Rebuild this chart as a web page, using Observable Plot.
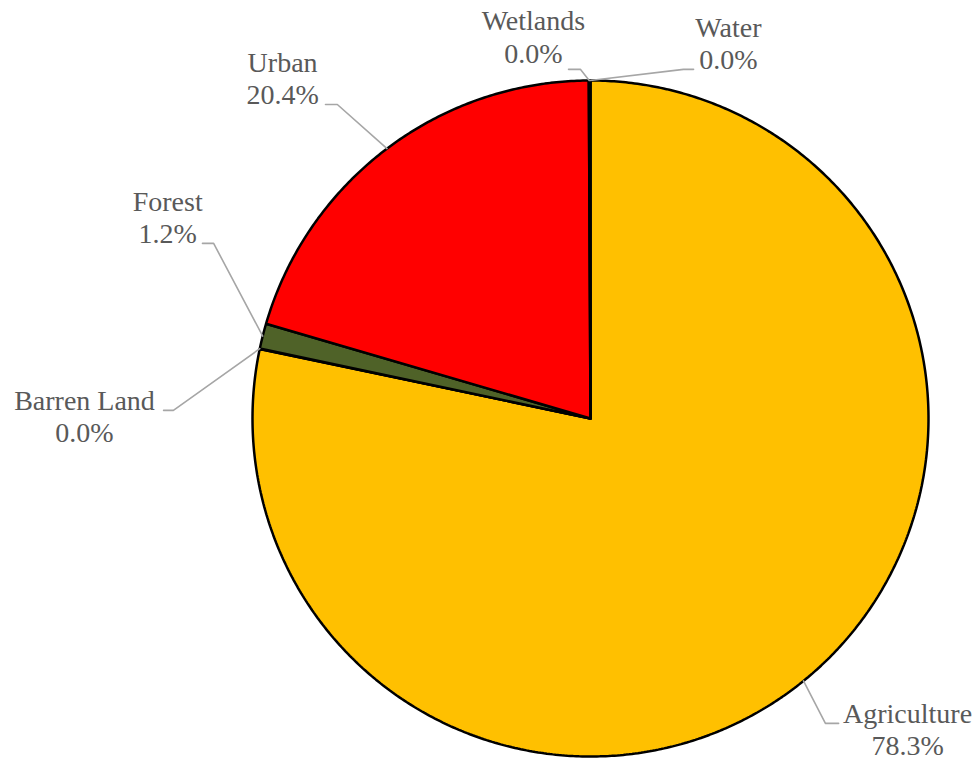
<!DOCTYPE html>
<html>
<head>
<meta charset="utf-8">
<script src="https://cdn.jsdelivr.net/npm/d3@7"></script>
<script src="https://cdn.jsdelivr.net/npm/@observablehq/plot@0.6"></script>
<style>
  html, body { margin: 0; padding: 0; background: #ffffff; }
  #chart svg { display: block; background: #ffffff; }
</style>
</head>
<body>
<div id="chart"></div>
<script>
// ---- data ----
const categories = ["Agriculture", "Barren Land", "Forest", "Urban", "Wetlands", "Water"];
const shares = [78.3, 0.02, 1.2, 20.4, 0.04, 0.04];   // percent of area
const sliceColors = ["#FFC000", "#7F7F7F", "#4F6228", "#FF0000", "#5B9BD5", "#2E75B6"];

// ---- label layout (in pie-radius units, centre = 0,0, y up) ----
const labelX = [0.938, -1.497, -1.251, -0.911, -0.169, 0.408];
const labelY = [-0.997, -0.071, 0.518, 0.929, 1.053, 1.033];
const elbowX = [0.695, -1.234, -1.115, -0.749, -0.030, 0.275];
const elbowY = [-0.902, 0.024, 0.518, 0.929, 1.033, 1.033];
const endX = [0.734, -1.263, -1.148, -0.784, -0.065, 0.305];
const endY = [-0.902, 0.024, 0.518, 0.929, 1.033, 1.033];

// ---- geometry from data ----
const total = d3.sum(shares);
let cum = 0;
const slices = categories.map((name, i) => {
  const a0 = cum / total * 2 * Math.PI;
  cum += shares[i];
  const a1 = cum / total * 2 * Math.PI;
  return {name, i, a0, a1, pct: (shares[i] / total * 100).toFixed(1) + "%"};
});

const sliceRows = [];
for (const s of slices) {
  sliceRows.push({name: s.name, x: 0, y: 0});
  const n = Math.max(2, Math.ceil((s.a1 - s.a0) / (Math.PI / 360)));
  for (let k = 0; k <= n; k++) {
    const a = s.a0 + (s.a1 - s.a0) * k / n;
    sliceRows.push({name: s.name, x: Math.sin(a), y: Math.cos(a)});
  }
  sliceRows.push({name: s.name, x: 0, y: 0});
}

const leaderRows = [];
for (const s of slices) {
  const am = (s.a0 + s.a1) / 2;
  leaderRows.push({name: s.name, x: Math.sin(am), y: Math.cos(am)});
  leaderRows.push({name: s.name, x: elbowX[s.i], y: elbowY[s.i]});
  leaderRows.push({name: s.name, x: endX[s.i], y: endY[s.i]});
}

const labelRows = slices.map(s => ({
  x: labelX[s.i], y: labelY[s.i], text: s.name + "\n" + s.pct
}));

// ---- frame: centre at (590,418) px, radius 338 px ----
const W = 980, H = 765, R = 338, CX = 590, CY = 418;

const chart = Plot.plot({
  width: W,
  height: H,
  margin: 0,
  x: {domain: [-CX / R, (W - CX) / R], axis: null},
  y: {domain: [-(H - CY) / R, CY / R], axis: null},
  color: {domain: categories, range: sliceColors},
  style: {background: "#ffffff", fontFamily: "Liberation Serif"},
  marks: [
    Plot.line(sliceRows, {
      x: "x", y: "y", z: "name", fill: "name",
      stroke: "#000000", strokeWidth: 2.5, strokeLinejoin: "miter", curve: "linear"
    }),
    Plot.line(leaderRows, {
      x: "x", y: "y", z: "name",
      stroke: "#A6A6A6", strokeWidth: 1.6, curve: "linear"
    }),
    Plot.text(labelRows, {
      x: "x", y: "y", text: "text",
      fontFamily: "Liberation Serif",
      fontSize: 28, fill: "#595959",
      textAnchor: "middle", lineAnchor: "bottom", lineHeight: 1.15
    })
  ]
});

document.getElementById("chart").appendChild(chart);
</script>
</body>
</html>
